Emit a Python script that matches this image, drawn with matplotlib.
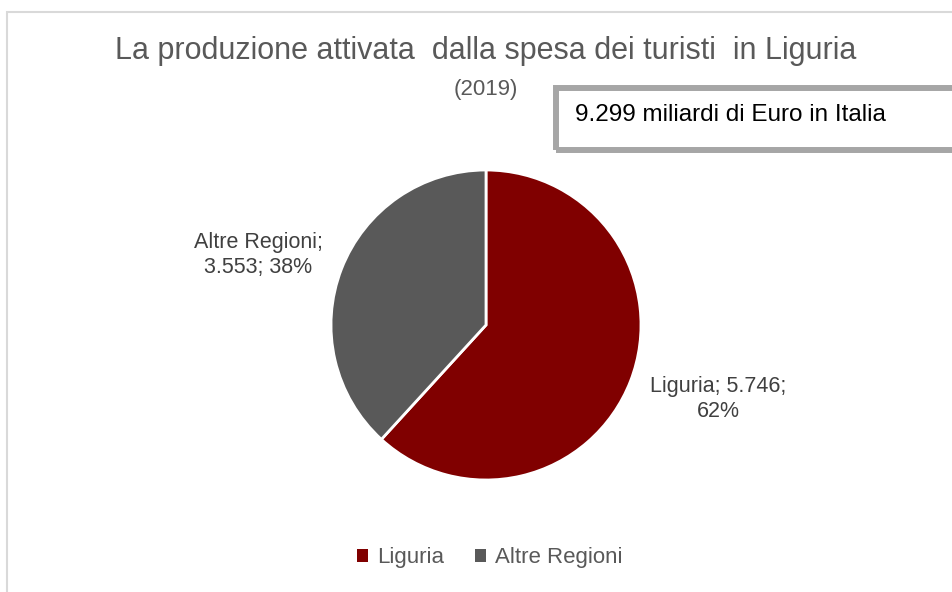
import matplotlib
matplotlib.use('Agg')
import matplotlib.pyplot as plt
from matplotlib.patches import Rectangle

categories = ["Liguria", "Altre Regioni"]
values = [5.746, 3.553]
shares = [62, 38]
colors = ["#800000", "#595959"]
total_text = "9.299 miliardi di Euro in Italia"
title = "La produzione attivata  dalla spesa dei turisti  in Liguria"
subtitle = "(2019)"

W, H = 952, 592
fig = plt.figure(figsize=(W / 100, H / 100), dpi=100)

def fx(x):
    return x / W

def fy(y):
    return 1 - y / H

regular = ["Liberation Sans", "DejaVu Sans"]

# chart area border
fig.patches.append(Rectangle((fx(7), fy(600)), fx(960) - fx(7), fy(12) - fy(600),
                             transform=fig.transFigure, fill=False,
                             edgecolor="#d9d9d9", lw=1.5, clip_on=False))

# pie, centre (486, 325), radius 155 px
cx, cy, r = 486, 325, 155
ax = fig.add_axes([fx(cx - r), fy(cy + r), 2 * r / W, 2 * r / H])
wedges, _ = ax.pie(values, colors=colors, startangle=90, counterclock=False,
                   wedgeprops=dict(edgecolor="white", linewidth=2))
ax.set_xlim(-1, 1)
ax.set_ylim(-1, 1)
ax.set_aspect('auto')
ax.axis('off')

lab_pos = [(1.50, -0.48), (-1.47, 0.45)]
for i in range(len(categories)):
    if i == 0:
        txt = "%s; %s;\n%d%%" % (categories[i], f"{values[i]:.3f}", shares[i])
    else:
        txt = "%s;\n%s; %d%%" % (categories[i], f"{values[i]:.3f}", shares[i])
    ax.text(lab_pos[i][0], lab_pos[i][1], txt, ha="center", va="center",
            fontsize=15.5, color="#404040", family=regular, linespacing=1.25,
            clip_on=False)

# titles
fig.text(fx(486), fy(51), title, ha="center", va="center", fontsize=22,
         color="#595959", family=regular)
fig.text(fx(486), fy(89), subtitle, ha="center", va="center", fontsize=16,
         color="#595959", family=regular)

# boxed total
fig.patches.append(Rectangle((fx(556), fy(150)), fx(970) - fx(556), fy(88) - fy(150),
                             transform=fig.transFigure, fill=False,
                             edgecolor="#a6a6a6", lw=4.3, clip_on=False))
fig.text(fx(575), fy(115), total_text, ha="left", va="center", fontsize=17.5,
         color="#000000", family=regular)

# legend
fig.legend(wedges, categories, loc="center", bbox_to_anchor=(fx(490), fy(558)),
           ncol=2, frameon=False, handlelength=0.5, handleheight=0.5,
           handletextpad=0.4, columnspacing=1.4,
           prop=dict(family=regular, size=16), labelcolor="#595959")
for h in fig.legends[0].legend_handles:
    h.set_edgecolor("none")

fig.savefig("out.png", dpi=100)
